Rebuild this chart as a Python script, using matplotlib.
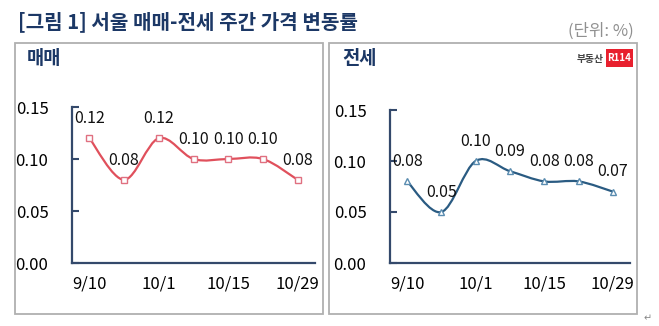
import numpy as np
import matplotlib
matplotlib.use('Agg')
import matplotlib.pyplot as plt
from matplotlib.path import Path
from matplotlib.patches import PathPatch, Rectangle

plt.rcParams['font.family'] = ['Noto Sans CJK KR', 'DejaVu Sans']

# 데이터
weeks = ['9/10', '9/17', '10/1', '10/8', '10/15', '10/22', '10/29']
tick_labels = ['9/10', '', '10/1', '', '10/15', '', '10/29']
sale = [0.12, 0.08, 0.12, 0.10, 0.10, 0.10, 0.08]
jeonse = [0.08, 0.05, 0.10, 0.09, 0.08, 0.08, 0.07]
yticks = [0.00, 0.05, 0.10, 0.15]

axis_col = '#34496b'
title_col = '#1c3866'


def smooth_path(xs, ys):
    # 엑셀식 부드러운 선 (베지어)
    pts = np.column_stack([xs, ys]).astype(float)
    verts = [pts[0]]
    codes = [Path.MOVETO]
    n = len(pts)
    for i in range(n - 1):
        p0 = pts[i - 1] if i > 0 else pts[i]
        p1 = pts[i]
        p2 = pts[i + 1]
        p3 = pts[i + 2] if i + 2 < n else pts[i + 1]
        c1 = p1 + (p2 - p0) / 6
        c2 = p2 - (p3 - p1) / 6
        verts += [c1, c2, p2]
        codes += [Path.CURVE4] * 3
    return Path(verts, codes)


def draw_panel(ax, vals, line_col, mk, mk_col):
    x = np.arange(len(vals))
    ax.add_patch(PathPatch(smooth_path(x, vals), fill=False, edgecolor=line_col, lw=1.6, zorder=2))
    ax.plot(x, vals, linestyle='none', marker=mk, ms=5, mfc='white', mec=mk_col, mew=1.0, zorder=3)
    for xi, v in zip(x, vals):
        ax.annotate(f'{v:.2f}', (xi, v), xytext=(0, 8), textcoords='offset points',
                    ha='center', va='bottom', fontsize=11.5, color='#111111')
    ax.set_xlim(-0.5, len(vals) - 0.5)
    ax.set_ylim(0, 0.15)
    ax.set_yticks(yticks)
    ax.set_yticklabels([f'{t:.2f}' for t in yticks], fontsize=12)
    ax.set_xticks(x)
    ax.set_xticklabels(tick_labels, fontsize=12)
    ax.tick_params(axis='y', direction='in', length=5, width=1.5, color=axis_col, pad=17)
    ax.tick_params(axis='x', length=0, pad=9)
    for s in ['top', 'right']:
        ax.spines[s].set_visible(False)
    for s in ['left', 'bottom']:
        ax.spines[s].set_color(axis_col)
        ax.spines[s].set_linewidth(1.6)
    ax.patch.set_alpha(0)


fig = plt.figure(figsize=(6.59, 3.26), dpi=100)

# 패널 테두리
fig.add_artist(Rectangle((15 / 659, 1 - 314 / 326), 308 / 659, 271 / 326, transform=fig.transFigure,
                         fill=False, edgecolor='#b0b0b0', lw=1.3))
fig.add_artist(Rectangle((329 / 659, 1 - 314 / 326), 308 / 659, 271 / 326, transform=fig.transFigure,
                         fill=False, edgecolor='#b0b0b0', lw=1.3))

ax1 = fig.add_axes([72 / 659, 1 - 263 / 326, 243 / 659, 156 / 326])
ax2 = fig.add_axes([390 / 659, 1 - 263 / 326, 240 / 659, 153 / 326])

draw_panel(ax1, sale, '#e0505c', 's', '#e07080')
draw_panel(ax2, jeonse, '#2a5b82', '^', '#5a8cb0')

fig.text(18 / 659, 1 - 22 / 326, '[그림 1] 서울 매매-전세 주간 가격 변동률', fontsize=14.5,
         fontweight='bold', color=title_col, va='center', ha='left')
fig.text(634 / 659, 1 - 31 / 326, '(단위: %)', fontsize=12, color='#909090', va='center', ha='right')
fig.text(27 / 659, 1 - 58 / 326, '매매', fontsize=13.5, fontweight='bold', color=title_col, va='center')
fig.text(342 / 659, 1 - 58 / 326, '전세', fontsize=13.5, fontweight='bold', color=title_col, va='center')

# 로고
fig.text(604 / 659, 1 - 59 / 326, '부동산', fontsize=7, fontweight='bold', color='#444444', va='center', ha='right')
fig.add_artist(Rectangle((606 / 659, 1 - 67 / 326), 27 / 659, 18 / 326, transform=fig.transFigure,
                         facecolor='#e8202e', edgecolor='none'))
fig.text(619.5 / 659, 1 - 58 / 326, 'R114', fontsize=7, fontweight='bold', color='white', va='center', ha='center')

fig.text(648 / 659, 1 - 318 / 326, '↵', fontsize=7, color='#888888', va='center', ha='center', family='DejaVu Sans')

fig.savefig('out.png', dpi=100)
